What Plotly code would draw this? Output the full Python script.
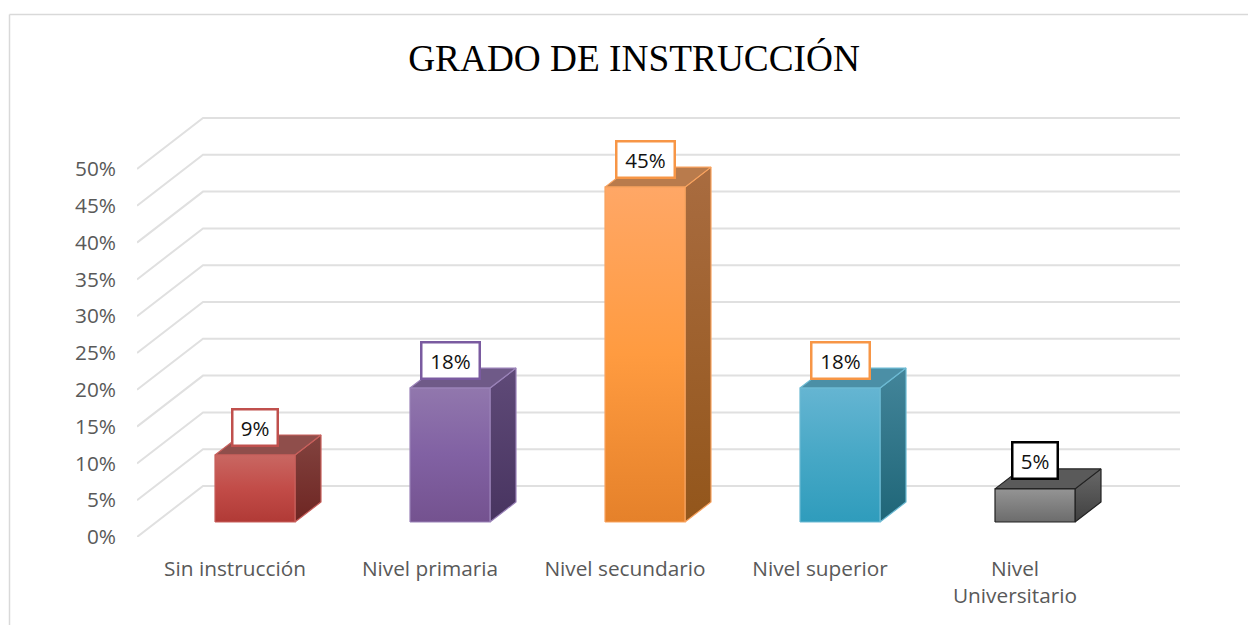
import plotly.graph_objects as go

categories = ["Sin instrucción", "Nivel primaria", "Nivel secundario", "Nivel superior", "Nivel<br>Universitario"]
values = [9.1, 18.2, 45.5, 18.2, 4.5]
value_labels = ["9%", "18%", "45%", "18%", "5%"]
y_ticks = [0, 5, 10, 15, 20, 25, 30, 35, 40, 45, 50]
y_tick_labels = ["0%", "5%", "10%", "15%", "20%", "25%", "30%", "35%", "40%", "45%", "50%"]

# colours per bar: (front top, front mid, front bottom, side top, side bottom, roof, outline, label border)
bar_styles = [
    ("#C96762", "#C24C48", "#B13A36", "#82433F", "#6E2522", "#8F4E4B", "#C9605C", "#C0504D"),
    ("#9177AD", "#8161A3", "#74528F", "#5F4A78", "#483460", "#6F5A88", "#9A82B8", "#7A5BA0"),
    ("#FFA766", "#FF9B40", "#E5812A", "#A96C40", "#93561B", "#B97B4C", "#F9A35F", "#F79646"),
    ("#65B5D2", "#47A8C6", "#2F9CBC", "#43859A", "#1F6678", "#4B8FA6", "#6CBAD3", "#F79646"),
    ("#949494", "#808080", "#6C6C6C", "#686868", "#404040", "#5A5A5A", "#222222", "#000000"),
]

# plot area in page pixels
LEFT, RIGHT, TOP, BOTTOM = 137, 1180, 117, 537
PX_PER_CAT = 195
PX_PER_PCT = 7.36
FIRST_TICK_PX = 235

WALL_DX, WALL_DY = 66 / PX_PER_CAT, 51 / PX_PER_PCT
BAR_DX, BAR_DY = 26 / PX_PER_CAT, 20 / PX_PER_PCT
BAR_SHIFT = 20 / PX_PER_CAT
BAR_BASE = 15 / PX_PER_PCT
BAR_HALF = 40 / PX_PER_CAT

x_min = (LEFT - FIRST_TICK_PX) / PX_PER_CAT
x_max = (RIGHT - FIRST_TICK_PX) / PX_PER_CAT
y_max = (BOTTOM - TOP) / PX_PER_PCT


def add_face(fig, xs, ys, stops, outline):
    # one closed polygon of a pseudo 3D bar
    if len(stops) == 1:
        stops = stops * 2
    scale = [[i / (len(stops) - 1), c] for i, c in enumerate(stops)]
    fig.add_trace(
        go.Scatter(
            x=xs + xs[:1],
            y=ys + ys[:1],
            mode="lines",
            fill="toself",
            fillgradient={"type": "vertical", "colorscale": scale},
            line={"color": outline, "width": 1.2},
            hoverinfo="skip",
            showlegend=False,
        )
    )


fig = go.Figure()

for tick in y_ticks:
    fig.add_trace(
        go.Scatter(
            x=[x_min, x_min + WALL_DX, x_max],
            y=[tick, tick + WALL_DY, tick + WALL_DY],
            mode="lines",
            line={"color": "#E0E0E0", "width": 2},
            hoverinfo="skip",
            showlegend=False,
        )
    )

for i, value in enumerate(values):
    top_c, mid_c, bot_c, side_top, side_bot, roof, outline, label_c = bar_styles[i]
    x0 = i + BAR_SHIFT - BAR_HALF
    x1 = i + BAR_SHIFT + BAR_HALF
    y0 = BAR_BASE
    y1 = BAR_BASE + value

    add_face(fig, [x1, x1 + BAR_DX, x1 + BAR_DX, x1], [y0, y0 + BAR_DY, y1 + BAR_DY, y1], [side_bot, side_top], outline)
    add_face(fig, [x0, x1, x1 + BAR_DX, x0 + BAR_DX], [y1, y1, y1 + BAR_DY, y1 + BAR_DY], [roof], outline)
    add_face(fig, [x0, x1, x1, x0], [y0, y0, y1, y1], [bot_c, mid_c, top_c], outline)

    fig.add_annotation(
        x=i + BAR_SHIFT,
        y=y1,
        yshift=28,
        text=value_labels[i],
        showarrow=False,
        font={"family": "Open Sans", "size": 20.5, "color": "#111111"},
        bgcolor="#FFFFFF",
        bordercolor=label_c,
        borderwidth=2.5,
        borderpad=0,
        width=43 if len(value_labels[i]) == 2 else 56,
        height=34,
    )

fig.update_layout(
    width=1248,
    height=625,
    margin=dict(l=LEFT, r=1248 - RIGHT, t=TOP, b=625 - BOTTOM),
    paper_bgcolor="#FFFFFF",
    plot_bgcolor="#FFFFFF",
    font={"family": "Open Sans", "color": "#595959", "size": 20.8},
    title={
        "text": "GRADO DE INSTRUCCIÓN",
        "x": 634 / 1248,
        "xanchor": "center",
        "y": 1 - 58 / 625,
        "yanchor": "middle",
        "font": {"family": "Liberation Serif", "size": 37.3, "color": "#000000"},
    },
    showlegend=False,
    shapes=[
        dict(
            type="line",
            xref="paper",
            yref="paper",
            x0=(9.5 - LEFT) / (RIGHT - LEFT),
            x1=(9.5 - LEFT) / (RIGHT - LEFT),
            y0=(BOTTOM - 14.5) / (BOTTOM - TOP),
            y1=(BOTTOM - 625) / (BOTTOM - TOP),
            line={"color": "#D9D9D9", "width": 1.5},
        ),
        dict(
            type="line",
            xref="paper",
            yref="paper",
            x0=(9.5 - LEFT) / (RIGHT - LEFT),
            x1=(1248 - LEFT) / (RIGHT - LEFT),
            y0=(BOTTOM - 14.5) / (BOTTOM - TOP),
            y1=(BOTTOM - 14.5) / (BOTTOM - TOP),
            line={"color": "#D9D9D9", "width": 1.5},
        ),
    ],
)
fig.update_xaxes(
    range=[x_min, x_max],
    tickvals=list(range(len(categories))),
    ticktext=categories,
    showgrid=False,
    zeroline=False,
    showline=False,
    ticks="",
    ticklabelstandoff=17,
    tickangle=0,
)
fig.update_yaxes(
    range=[0, y_max],
    tickvals=y_ticks,
    ticktext=y_tick_labels,
    showgrid=False,
    zeroline=False,
    showline=False,
    ticks="",
    ticklabelstandoff=20,
)

# the page keeps the browser's default body margin otherwise
fig.write_html(
    "out.html",
    config={"displayModeBar": False},
    post_script="document.body.style.margin='0';document.body.style.overflow='hidden';",
)
